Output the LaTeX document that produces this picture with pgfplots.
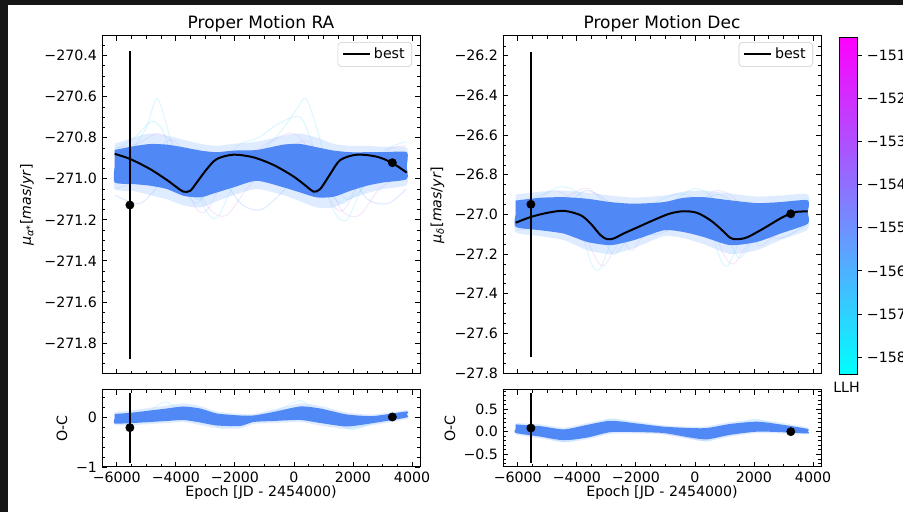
\documentclass[border=0pt]{standalone}
\usepackage{fontspec}
\setmainfont{DejaVu Sans}
\usepackage{pgfplots}
\pgfplotsset{compat=1.18}

\definecolor{bg}{RGB}{22,22,22}
\definecolor{bandblue}{RGB}{80,136,246}
\definecolor{bandfringe}{RGB}{150,195,255}
\definecolor{fcyan}{RGB}{110,225,255}
\definecolor{fpink}{RGB}{225,160,245}
\definecolor{fblue}{RGB}{120,170,255}

\newcommand{\mytl}[2]{%
  \pgfmathparse{#1<0 ? 1 : 0}%
  \ifdim\pgfmathresult pt>0.5pt −\fi
  \pgfmathparse{abs(#1)}%
  \pgfmathprintnumber[fixed,fixed zerofill,precision=#2,1000 sep={},assume math mode=true]{\pgfmathresult}}

\pgfplotsset{
 mpl/.style={
  scale only axis, anchor=south west, width=224.19pt,
  xmin=-6500, xmax=4270,
  scaled ticks=false,
  tick align=inside, xtick pos=both, ytick pos=both,
  major tick length=3.5pt, minor tick length=2pt,
  major tick style={line width=0.55pt,black},
  minor tick style={line width=0.45pt,black},
  axis line style={line width=0.7pt},
  tick label style={font=\fontsize{10}{12}\selectfont, text=black},
  label style={font=\fontsize{10}{12}\selectfont},
  title style={font=\fontsize{12}{14}\selectfont, at={(axis description cs:0.5,1)}, anchor=south, yshift=-6.8pt},
  xtick={-6000,-4000,-2000,0,2000,4000},
  minor xtick={-6500,-5500,-5000,-4500,-3500,-3000,-2500,-1500,-1000,-500,500,1000,1500,2500,3000,3500},
  xticklabel={\mytl{\tick}{0}},
  legend style={at={(axis description cs:0.975,0.982)}, anchor=north east, draw=black!20, fill=white, rounded corners=2.5pt, font=\fontsize{10}{12}\selectfont, inner xsep=3pt, inner ysep=2pt},
  legend cell align=left,
  legend image code/.code={\draw[#1] (0pt,0pt) -- (19pt,0pt);},
 },
 faint/.style={smooth, line width=0.7pt, opacity=0.25, forget plot},
 best/.style={black, line width=1.4pt, smooth},
 band/.style={draw=none, smooth, tension=0.4, forget plot},
 pts/.style={black, only marks, mark=*, mark size=2.9pt, forget plot,
   error bars/.cd, y dir=both, y explicit, error bar style={line width=1.3pt}, error mark=none},
}

\begin{document}
\begin{tikzpicture}
\useasboundingbox (0,0) rectangle (636.62pt,360.96pt);
\fill[bg] (0,0) rectangle (636.62pt,360.96pt);
\fill[white] (5.64pt,0) rectangle (636.62pt,357.44pt);

% ---------------- RA top ----------------
\begin{axis}[mpl, at={(71.91pt,97.29pt)}, height=238.29pt,
  ymin=-271.951, ymax=-270.305,
  xticklabels={},
  ytick={-271.8,-271.6,-271.4,-271.2,-271.0,-270.8,-270.6,-270.4},
  minor ytick={-271.95,-271.9,-271.85,-271.75,-271.7,-271.65,-271.55,-271.5,-271.45,-271.35,-271.3,-271.25,-271.15,-271.1,-271.05,-270.95,-270.9,-270.85,-270.75,-270.7,-270.65,-270.55,-270.5,-270.45,-270.35},
  yticklabel={\mytl{\tick}{1}},
  title={Proper Motion RA},
  ylabel={\textit{μ}\textsubscript{\textit{α}*}[\textit{mas}/\textit{yr}]},
  ylabel style={at={(axis description cs:-0.236,0.5)}, anchor=center},
]
\addplot[faint, fcyan] coordinates {(-6050,-270.90) (-5500,-270.86) (-5000,-270.75) (-4650,-270.61) (-4350,-270.72) (-3900,-270.95) (-3300,-271.10) (-2700,-271.05) (-2000,-270.96) (-1200,-270.88) (-500,-270.78) (100,-270.66) (400,-270.61) (750,-270.74) (1200,-270.97) (1800,-271.10) (2500,-271.02) (3200,-270.94) (3800,-270.88)};
\addplot[faint, fcyan] coordinates {(-6050,-270.95) (-5000,-270.90) (-4200,-270.86) (-3600,-270.93) (-3000,-271.15) (-2600,-271.19) (-2100,-271.05) (-1300,-270.93) (-400,-270.86) (300,-270.88) (900,-271.00) (1400,-271.17) (1800,-271.20) (2300,-271.05) (3000,-270.93) (3800,-270.90)};
\addplot[faint, fpink] coordinates {(-6050,-271.05) (-5300,-271.00) (-4500,-270.84) (-4000,-270.82) (-3500,-270.96) (-2900,-271.14) (-2300,-271.18) (-1600,-271.05) (-900,-270.95) (-200,-270.85) (500,-270.82) (1000,-270.95) (1600,-271.15) (2200,-271.18) (2900,-271.05) (3800,-270.97)};
\addplot[faint, fcyan] coordinates {(-6050,-270.86) (-5400,-270.80) (-4800,-270.72) (-4400,-270.78) (-3900,-271.00) (-3300,-271.12) (-2600,-270.98) (-1900,-270.84) (-1200,-270.80) (-500,-270.73) (200,-270.70) (600,-270.82) (1100,-271.04) (1700,-271.12) (2400,-270.98) (3100,-270.86) (3800,-270.82)};
\addplot[faint, fblue] coordinates {(-6050,-271.08) (-5200,-271.12) (-4400,-271.00) (-3800,-270.90) (-3200,-270.86) (-2500,-270.98) (-1800,-271.12) (-1100,-271.15) (-300,-271.05) (400,-270.93) (1100,-270.87) (1800,-270.96) (2500,-271.10) (3200,-271.12) (3800,-271.05)};
\addplot[faint, fpink] coordinates {(-6050,-270.85) (-5300,-270.83) (-4600,-270.78) (-4000,-270.85) (-3400,-271.12) (-3000,-271.16) (-2400,-271.02) (-1600,-270.90) (-800,-270.82) (0,-270.78) (700,-270.90) (1300,-271.12) (1700,-271.15) (2400,-270.98) (3200,-270.86) (3800,-270.84)};
\addplot[band, fill=bandfringe, fill opacity=0.3] coordinates {(-6070,-270.83) (-5435,-270.80) (-4871,-270.78) (-4305,-270.79) (-3742,-270.81) (-3176,-270.83) (-2610,-270.84) (-2047,-270.83) (-1256,-270.82) (-353,-270.79) (212,-270.78) (777,-270.80) (1342,-270.83) (1907,-270.84) (2472,-270.84) (3037,-270.845) (3820,-270.85) (3821,-270.95) (3820,-271.03) (3037,-271.05) (2472,-271.07) (1907,-271.10) (1342,-271.14) (777,-271.14) (212,-271.11) (-353,-271.08) (-1256,-271.05) (-2047,-271.08) (-2610,-271.11) (-3176,-271.14) (-3742,-271.13) (-4305,-271.10) (-4871,-271.08) (-5435,-271.06) (-6070,-271.05) (-6071,-270.94)} -- cycle;
\addplot[band, fill=bandblue] coordinates {(-6070,-270.86) (-5435,-270.842) (-4871,-270.831) (-4305,-270.834) (-3742,-270.847) (-3176,-270.863) (-2610,-270.871) (-2047,-270.863) (-1256,-270.860) (-353,-270.834) (212,-270.831) (777,-270.847) (1342,-270.863) (1907,-270.871) (2472,-270.871) (3037,-270.871) (3820,-270.871) (3821,-270.94) (3820,-271.002) (3037,-271.018) (2472,-271.034) (1907,-271.059) (1342,-271.088) (777,-271.091) (212,-271.067) (-353,-271.042) (-1256,-271.01) (-2047,-271.042) (-2610,-271.067) (-3176,-271.091) (-3742,-271.083) (-4305,-271.05) (-4871,-271.034) (-5435,-271.026) (-6070,-271.018) (-6071,-270.94)} -- cycle;
\addplot[best] coordinates {(-6070,-270.879) (-5549,-270.904) (-4871,-270.953) (-4305,-271.006) (-3966,-271.042) (-3742,-271.063) (-3515,-271.059) (-3288,-271.018) (-2949,-270.953) (-2610,-270.904) (-2047,-270.883) (-1369,-270.896) (-692,-270.933) (-14,-270.989) (441,-271.039) (666,-271.063) (892,-271.050) (1231,-270.977) (1570,-270.909) (2136,-270.883) (2814,-270.893) (3322,-270.923) (3820,-270.970)};
\addlegendentry{best}
\addplot[pts] coordinates {(-5555,-271.128) +- (0,0.748) (3333,-270.922) +- (0,0)};
\end{axis}

% ---------------- RA bottom ----------------
\begin{axis}[mpl, at={(71.91pt,31.73pt)}, height=54.29pt,
  ymin=-1.0, ymax=0.54,
  ytick={-1,0}, minor ytick={-0.8,-0.6,-0.4,-0.2,0.2,0.4},
  yticklabel={\mytl{\tick}{0}},
  ylabel={O-C}, ylabel style={at={(axis description cs:-0.126,0.5)}, anchor=center},
  xlabel={Epoch [JD - 2454000)}, xlabel style={at={(axis description cs:0.5,-0.338)}, anchor=center},
]
\addplot[faint, fcyan] coordinates {(-6050,0.02) (-5000,0.10) (-4400,0.30) (-4000,0.20) (-3300,0.10) (-2600,-0.15) (-2000,-0.08) (-1300,0.0) (-500,0.15) (200,0.33) (600,0.18) (1300,-0.05) (2000,-0.22) (2800,-0.08) (3800,0.08)};
\addplot[faint, fcyan] coordinates {(-6050,-0.10) (-5000,-0.05) (-4000,0.15) (-3000,-0.05) (-2400,-0.22) (-1500,-0.05) (-500,0.05) (300,0.20) (1200,0.0) (1900,-0.25) (2700,-0.12) (3800,0.02)};
\addplot[band, fill=bandfringe, fill opacity=0.3] coordinates {(-6070,0.10) (-5437,0.14) (-4305,0.23) (-3742,0.27) (-3176,0.22) (-2610,0.11) (-1820,0.06) (-1370,0.06) (-692,0.15) (214,0.27) (892,0.22) (1797,0.09) (2700,0.05) (3820,0.14) (3821,0.05) (3820,-0.04) (2700,-0.16) (1797,-0.24) (892,-0.17) (214,-0.10) (-692,-0.12) (-1370,-0.14) (-1820,-0.23) (-2610,-0.22) (-3176,-0.16) (-3742,-0.10) (-4305,-0.12) (-5437,-0.16) (-6070,-0.16) (-6071,-0.03)} -- cycle;
\addplot[band, fill=bandblue] coordinates {(-6070,0.06) (-5437,0.09) (-4305,0.17) (-3742,0.21) (-3176,0.17) (-2610,0.07) (-1820,0.03) (-1370,0.03) (-692,0.10) (214,0.21) (892,0.17) (1797,0.05) (2700,0.02) (3820,0.11) (3821,0.05) (3820,-0.01) (2700,-0.12) (1797,-0.19) (892,-0.12) (214,-0.06) (-692,-0.08) (-1370,-0.10) (-1820,-0.18) (-2610,-0.17) (-3176,-0.11) (-3742,-0.06) (-4305,-0.08) (-5437,-0.12) (-6070,-0.13) (-6071,-0.03)} -- cycle;
\addplot[pts] coordinates {(-5555,-0.214) +- (0,0.70) (3333,0.0) +- (0,0)};
\end{axis}

% ---------------- Dec top ----------------
\begin{axis}[mpl, at={(354.62pt,97.29pt)}, height=238.29pt,
  ymin=-27.805, ymax=-26.10,
  xticklabels={},
  ytick={-27.8,-27.6,-27.4,-27.2,-27.0,-26.8,-26.6,-26.4,-26.2},
  minor ytick={-27.75,-27.7,-27.65,-27.55,-27.5,-27.45,-27.35,-27.3,-27.25,-27.15,-27.1,-27.05,-26.95,-26.9,-26.85,-26.75,-26.7,-26.65,-26.55,-26.5,-26.45,-26.35,-26.3,-26.25,-26.15},
  yticklabel={\mytl{\tick}{1}},
  title={Proper Motion Dec},
  ylabel={\textit{μ}\textsubscript{\textit{δ}}[\textit{mas}/\textit{yr}]},
  ylabel style={at={(axis description cs:-0.206,0.5)}, anchor=center},
  colormap={cool}{rgb255=(0,255,255) rgb255=(255,0,255)},
  point meta min=-158.39, point meta max=-150.58,
  colorbar,
  colorbar style={at={(parent axis.north east)}, anchor=north west, xshift=4.15pt, yshift=-0.7pt,
    width=12.69pt, height=237.6pt, scale only axis,
    ytick={-158,-157,-156,-155,-154,-153,-152,-151}, yticklabel={\mytl{\tick}{0}},
    tick align=outside, ytick pos=right, yticklabel pos=right,
    major tick length=3.5pt, major tick style={black, line width=0.55pt},
    tick label style={font=\fontsize{10}{12}\selectfont, text=black},
    axis line style={line width=0.6pt}},
]
\addplot[faint, fcyan] coordinates {(-6050,-26.95) (-5200,-26.90) (-4500,-26.86) (-3900,-26.90) (-3300,-27.05) (-2800,-27.20) (-2400,-27.15) (-1500,-27.02) (-700,-26.93) (0,-26.87) (600,-26.92) (1100,-27.10) (1500,-27.22) (2000,-27.12) (2800,-26.98) (3800,-26.92)};
\addplot[faint, fpink] coordinates {(-6050,-27.00) (-5300,-26.92) (-4700,-26.88) (-4100,-26.95) (-3500,-27.18) (-3100,-27.26) (-2600,-27.15) (-1800,-27.05) (-800,-26.97) (-100,-26.92) (500,-26.98) (900,-27.18) (1300,-27.25) (1800,-27.15) (2700,-27.02) (3800,-26.95)};
\addplot[faint, fblue] coordinates {(-6050,-27.08) (-5200,-27.05) (-4400,-26.96) (-3700,-26.88) (-3000,-26.93) (-2400,-27.02) (-1600,-27.10) (-900,-27.08) (-100,-26.98) (700,-26.90) (1400,-26.95) (2100,-27.08) (2900,-27.12) (3800,-27.05)};
\addplot[faint, fcyan] coordinates {(-6050,-26.98) (-5400,-26.95) (-4600,-26.93) (-4000,-27.02) (-3500,-27.25) (-3200,-27.27) (-2700,-27.10) (-1800,-26.98) (-900,-26.91) (-300,-26.90) (300,-26.97) (800,-27.20) (1100,-27.26) (1600,-27.12) (2600,-26.98) (3800,-26.93)};
\addplot[faint, fpink] coordinates {(-6050,-27.02) (-5000,-26.98) (-4200,-26.90) (-3600,-26.87) (-2900,-26.98) (-2200,-27.18) (-1800,-27.12) (-900,-27.03) (0,-26.96) (700,-26.88) (1400,-26.93) (2100,-27.15) (2600,-27.12) (3800,-27.00)};
\addplot[band, fill=bandfringe, fill opacity=0.3] coordinates {(-6070,-26.90) (-5223,-26.885) (-4436,-26.88) (-3647,-26.89) (-2858,-26.905) (-2070,-26.915) (-1056,-26.905) (-380,-26.885) (296,-26.88) (1196,-26.895) (2097,-26.91) (2885,-26.905) (3820,-26.90) (3821,-26.99) (3820,-27.075) (2885,-27.13) (2097,-27.18) (1196,-27.20) (296,-27.15) (-380,-27.12) (-1056,-27.11) (-2070,-27.17) (-2858,-27.20) (-3647,-27.18) (-4436,-27.13) (-5223,-27.11) (-6070,-27.09) (-6071,-27.0)} -- cycle;
\addplot[band, fill=bandblue] coordinates {(-6070,-26.93) (-5223,-26.916) (-4436,-26.913) (-3647,-26.921) (-2858,-26.938) (-2070,-26.946) (-1056,-26.938) (-380,-26.916) (296,-26.913) (1196,-26.929) (2097,-26.943) (2885,-26.938) (3820,-26.929) (3821,-26.99) (3820,-27.047) (2885,-27.097) (2097,-27.139) (1196,-27.155) (296,-27.114) (-380,-27.089) (-1056,-27.08) (-2070,-27.13) (-2858,-27.155) (-3647,-27.139) (-4436,-27.097) (-5223,-27.08) (-6070,-27.063) (-6071,-27.0)} -- cycle;
\addplot[best] coordinates {(-6070,-27.042) (-5561,-27.013) (-4997,-26.992) (-4436,-26.982) (-3872,-27.004) (-3534,-27.046) (-3196,-27.105) (-2971,-27.125) (-2746,-27.121) (-2409,-27.096) (-1959,-27.066) (-1280,-27.021) (-831,-26.995) (-382,-26.984) (71,-26.992) (520,-27.029) (858,-27.071) (1196,-27.118) (1421,-27.125) (1760,-27.116) (2324,-27.071) (2885,-27.021) (3247,-26.995) (3449,-26.987) (3820,-26.984)};
\addlegendentry{best}
\addplot[pts] coordinates {(-5555,-26.949) +- (0,0.77) (3247,-26.997) +- (0,0)};
\end{axis}

% ---------------- Dec bottom ----------------
\begin{axis}[mpl, at={(354.62pt,31.73pt)}, height=54.29pt,
  ymin=-0.78, ymax=0.92,
  ytick={-0.5,0,0.5}, minor ytick={-0.7,-0.6,-0.4,-0.3,-0.2,-0.1,0.1,0.2,0.3,0.4,0.6,0.7,0.8,0.9},
  yticklabel={\mytl{\tick}{1}},
  ylabel={O-C}, ylabel style={at={(axis description cs:-0.167,0.5)}, anchor=center},
  xlabel={Epoch [JD - 2454000)}, xlabel style={at={(axis description cs:0.5,-0.338)}, anchor=center},
]
\addplot[faint, fcyan] coordinates {(-6050,0.12) (-4500,-0.22) (-3600,-0.05) (-2900,0.28) (-2000,0.15) (-1000,0.0) (0,-0.15) (500,-0.20) (1200,0.05) (2000,0.27) (2900,0.12) (3800,-0.02)};
\addplot[faint, fpink] coordinates {(-6050,0.05) (-4500,-0.18) (-3000,0.15) (-2000,0.05) (-500,-0.10) (400,-0.18) (1500,0.12) (2500,0.15) (3800,0.0)};
\addplot[band, fill=bandfringe, fill opacity=0.3] coordinates {(-6070,0.19) (-5223,0.16) (-4436,0.09) (-3647,0.19) (-2858,0.28) (-1959,0.22) (-1059,0.14) (-155,0.11) (408,0.12) (1196,0.21) (2097,0.26) (2885,0.20) (3820,0.09) (3821,0.01) (3820,-0.06) (2885,-0.04) (2097,-0.03) (1196,-0.11) (408,-0.21) (-155,-0.17) (-1059,-0.06) (-1959,-0.04) (-2858,-0.05) (-3647,-0.17) (-4436,-0.23) (-5223,-0.15) (-6070,-0.06) (-6071,0.06)} -- cycle;
\addplot[band, fill=bandblue] coordinates {(-6070,0.16) (-5223,0.12) (-4436,0.05) (-3647,0.15) (-2858,0.24) (-1959,0.18) (-1059,0.11) (-155,0.08) (408,0.08) (1196,0.17) (2097,0.22) (2885,0.16) (3820,0.06) (3821,0.01) (3820,-0.04) (2885,-0.01) (2097,0.0) (1196,-0.07) (408,-0.17) (-155,-0.13) (-1059,-0.03) (-1959,-0.01) (-2858,-0.01) (-3647,-0.13) (-4436,-0.19) (-5223,-0.11) (-6070,-0.03) (-6071,0.06)} -- cycle;
\addplot[pts] coordinates {(-5555,0.08) +- (0,0.77) (3247,0.0) +- (0,0)};
\end{axis}

\node[font=\fontsize{10}{12}\selectfont] at (596.8pt,88.1pt) {LLH};
\end{tikzpicture}
\end{document}
